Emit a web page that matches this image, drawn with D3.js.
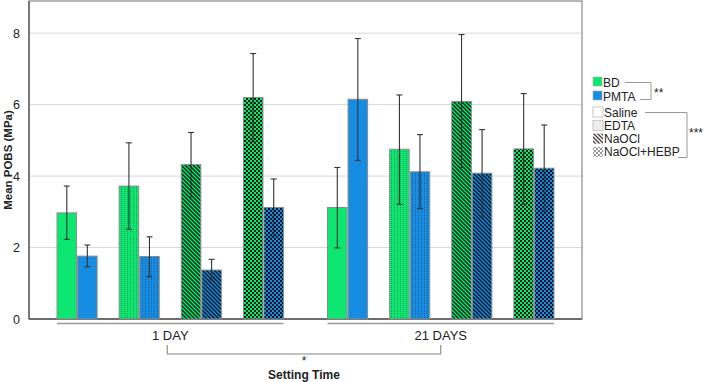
<!DOCTYPE html>
<html>
<head>
<meta charset="utf-8">
<script src="https://cdn.jsdelivr.net/npm/d3@7"></script>
<style>
  body { margin: 0; background: #fff; }
  svg { font-family: "Liberation Sans", Arial, sans-serif; }
</style>
</head>
<body>
<div id="chart"></div>
<script>
/* Data */
const DAYS = ["1 DAY", "21 DAYS"];
const TREATMENTS = ["Saline", "EDTA", "NaOCl", "NaOCl+HEBP"];
const MATERIALS = ["BD", "PMTA"];
const Y_TICKS = [0, 2, 4, 6, 8];

// means, one array per day/material, ordered by TREATMENTS
const BD_1 = [2.97, 3.72, 4.32, 6.20];
const PMTA_1 = [1.76, 1.75, 1.37, 3.12];
const BD_21 = [3.12, 4.75, 6.09, 4.76];
const PMTA_21 = [6.15, 4.12, 4.08, 4.22];
// error bar lower / upper
const BD_1_LO = [2.23, 2.51, 3.42, 4.96];
const BD_1_HI = [3.72, 4.93, 5.22, 7.43];
const PMTA_1_LO = [1.46, 1.18, 1.09, 2.32];
const PMTA_1_HI = [2.07, 2.30, 1.67, 3.92];
const BD_21_LO = [1.99, 3.21, 4.24, 3.21];
const BD_21_HI = [4.24, 6.27, 7.96, 6.31];
const PMTA_21_LO = [4.44, 3.09, 2.86, 3.00];
const PMTA_21_HI = [7.85, 5.16, 5.30, 5.43];

const COLOR = { BD: "#0de772", PMTA: "#168de2" };

const rows = [];
[[DAYS[0], "BD", BD_1, BD_1_LO, BD_1_HI], [DAYS[0], "PMTA", PMTA_1, PMTA_1_LO, PMTA_1_HI],
 [DAYS[1], "BD", BD_21, BD_21_LO, BD_21_HI], [DAYS[1], "PMTA", PMTA_21, PMTA_21_LO, PMTA_21_HI]]
  .forEach(([day, mat, m, lo, hi]) => TREATMENTS.forEach((t, i) =>
    rows.push({ day, mat, trt: t, mean: m[i], lo: lo[i], hi: hi[i] })));

const W = 708, H = 382;
const L = 29, R = 582, T = 1, B = 319;

const svg = d3.select("#chart").append("svg").attr("width", W).attr("height", H);

/* Patterns: one per treatment x colour (plus legend greys) */
const defs = svg.append("defs");
function makePattern(id, trt, base, ink, op) {
  if (trt === "Saline") return;
  const p = defs.append("pattern").attr("id", id).attr("patternUnits", "userSpaceOnUse");
  if (trt === "EDTA") {
    p.attr("width", 3).attr("height", 2);
    p.append("rect").attr("width", 3).attr("height", 2).attr("fill", base);
    p.append("rect").attr("x", 1).attr("y", 1).attr("width", 1).attr("height", 1).attr("fill", ink).attr("opacity", op);
  } else if (trt === "NaOCl") {
    p.attr("width", 4).attr("height", 4);
    p.append("rect").attr("width", 4).attr("height", 4).attr("fill", base);
    p.append("path").attr("d", "M-1,-1L5,5M-1,3L1,5M3,-1L5,1")
      .attr("stroke", ink).attr("stroke-width", 1.4).attr("opacity", op);
  } else {
    p.attr("width", 4).attr("height", 4);
    p.append("rect").attr("width", 4).attr("height", 4).attr("fill", base);
    p.append("rect").attr("width", 2).attr("height", 2).attr("fill", ink).attr("opacity", op);
    p.append("rect").attr("x", 2).attr("y", 2).attr("width", 2).attr("height", 2).attr("fill", ink).attr("opacity", op);
  }
}
MATERIALS.forEach(m => TREATMENTS.forEach((t, i) =>
  makePattern(`p-${m}-${i}`, t, COLOR[m], "#000", t === "EDTA" ? 0.3 : 0.85)));
TREATMENTS.forEach((t, i) => makePattern(`p-leg-${i}`, t, i === 1 ? "#ececec" : "#fff",
  i === 1 ? "#fff" : "#444", i === 3 ? 0.55 : 1));
const fillFor = (mat, trt) => trt === "Saline" ? COLOR[mat] : `url(#p-${mat}-${TREATMENTS.indexOf(trt)})`;

/* Scales */
const x0 = d3.scaleBand().domain(DAYS).range([L, R]).paddingInner(0.0815).paddingOuter(0.063);
const x1 = d3.scaleBand().domain(TREATMENTS).range([0, x0.bandwidth()]).paddingInner(0.355).paddingOuter(0.177);
const x2 = d3.scaleBand().domain(MATERIALS).range([0, x1.bandwidth()]).paddingInner(0.05);
const y = d3.scaleLinear().domain([0, 8.9]).range([B, T]);
const xPos = d => x0(d.day) + x1(d.trt) + x2(d.mat);

/* Grid */
svg.append("g").selectAll("line").data(Y_TICKS.filter(d => d > 0)).enter().append("line")
  .attr("x1", L).attr("x2", R).attr("y1", d => y(d)).attr("y2", d => y(d))
  .attr("stroke", "#d8d8d8").attr("stroke-width", 1);

/* Frame */
svg.append("rect").attr("x", L).attr("y", T).attr("width", R - L).attr("height", B - T)
  .attr("fill", "none").attr("stroke", "#8a8a8a").attr("stroke-width", 1.2);
svg.append("line").attr("x1", L).attr("x2", L).attr("y1", T).attr("y2", B)
  .attr("stroke", "#555").attr("stroke-width", 1.3);
svg.append("line").attr("x1", L).attr("x2", R).attr("y1", B).attr("y2", B)
  .attr("stroke", "#555").attr("stroke-width", 1.3);

/* Y axis */
const yAxis = svg.append("g").attr("transform", `translate(${L},0)`)
  .call(d3.axisLeft(y).tickValues(Y_TICKS).tickSize(0).tickPadding(9));
yAxis.select(".domain").remove();
yAxis.selectAll("text").style("font-size", "12.5px").style("fill", "#222")
  .style("font-family", "Liberation Sans, Arial, sans-serif");

svg.append("text").attr("transform", "rotate(-90)")
  .attr("x", -160).attr("y", 12).attr("text-anchor", "middle")
  .style("font-size", "11.5px").style("font-weight", "bold").style("fill", "#222")
  .text("Mean POBS (MPa)");

/* Bars */
svg.append("g").selectAll("rect").data(rows).enter().append("rect")
  .attr("x", d => xPos(d)).attr("width", x2.bandwidth())
  .attr("y", d => y(d.mean)).attr("height", d => B - y(d.mean))
  .attr("fill", d => fillFor(d.mat, d.trt))
  .attr("stroke", "#8c8c8c").attr("stroke-width", 1);

/* Error bars */
const eb = svg.append("g").attr("stroke", "#333").attr("stroke-width", 1.1);
rows.forEach(d => {
  const cx = xPos(d) + x2.bandwidth() / 2;
  eb.append("line").attr("x1", cx).attr("x2", cx).attr("y1", y(d.lo)).attr("y2", y(d.hi));
  [d.lo, d.hi].forEach(v => eb.append("line")
    .attr("x1", cx - 3).attr("x2", cx + 3).attr("y1", y(v)).attr("y2", y(v)));
});

/* Group lines + labels */
DAYS.forEach(day => {
  const a = x0(day) + x1(TREATMENTS[0]);
  const b = x0(day) + x1(TREATMENTS[3]) + x1.bandwidth();
  svg.append("line").attr("x1", a).attr("x2", b).attr("y1", 323.5).attr("y2", 323.5)
    .attr("stroke", "#999").attr("stroke-width", 1.5);
  svg.append("text").attr("x", x0(day) + x0.bandwidth() / 2).attr("y", 340)
    .attr("text-anchor", "middle").style("font-size", "13px").style("fill", "#222").text(day);
});

/* Setting-time bracket */
const c1 = x0(DAYS[0]) + x0.bandwidth() / 2 - 3, c2 = x0(DAYS[1]) + x0.bandwidth() / 2;
svg.append("path").attr("d", `M${c1},345V354H${c2}V345`)
  .attr("fill", "none").attr("stroke", "#888").attr("stroke-width", 1.1);
svg.append("text").attr("x", (c1 + c2) / 2).attr("y", 365).attr("text-anchor", "middle")
  .style("font-size", "12px").style("fill", "#222").text("*");
svg.append("text").attr("x", (c1 + c2) / 2).attr("y", 379).attr("text-anchor", "middle")
  .style("font-size", "12px").style("font-weight", "bold").style("fill", "#222").text("Setting Time");

/* Legend */
const lg = svg.append("g").style("font-size", "12px").style("fill", "#222");
const LX = 593;
MATERIALS.forEach((m, i) => {
  const yy = 77 + i * 14;
  lg.append("rect").attr("x", LX).attr("y", yy).attr("width", 9).attr("height", 9)
    .attr("fill", COLOR[m]).attr("stroke", "#aaa").attr("stroke-width", 0.6);
  lg.append("text").attr("x", LX + 10).attr("y", yy + 9.5).text(m);
});
lg.append("path").attr("d", "M625,82.5H651V99.5H640")
  .attr("fill", "none").attr("stroke", "#999").attr("stroke-width", 1);
lg.append("text").attr("x", 654).attr("y", 97).text("**");

TREATMENTS.forEach((t, i) => {
  const yy = 107 + i * 13.3;
  lg.append("rect").attr("x", LX).attr("y", yy).attr("width", 10).attr("height", 10)
    .attr("fill", t === "Saline" ? "#fff" : `url(#p-leg-${i})`)
    .attr("stroke", i < 2 ? "#bbb" : "none").attr("stroke-width", 0.8);
  lg.append("text").attr("x", LX + 11).attr("y", yy + 9.5).text(t);
});
lg.append("path").attr("d", "M645,112.5H687V157.5H678")
  .attr("fill", "none").attr("stroke", "#999").attr("stroke-width", 1);
lg.append("text").attr("x", 689).attr("y", 137).text("***");
</script>
</body>
</html>
